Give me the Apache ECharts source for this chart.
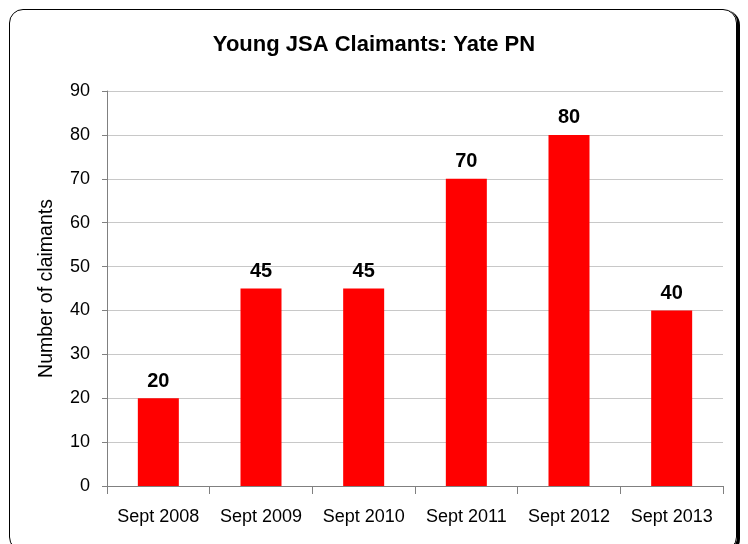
<!DOCTYPE html>
<html>
<head>
<meta charset="utf-8">
<script src="https://cdn.jsdelivr.net/npm/echarts@6/dist/echarts.min.js"></script>
<style>
  html, body { margin: 0; padding: 0; background: #fff; }
  #frame {
    position: absolute; left: 9px; top: 9px; width: 726px; height: 540px;
    border: 1px solid #000; border-radius: 14px;
    box-shadow: 2px 2px 0 1px #000;
  }
  #chart { position: absolute; left: 0; top: 0; width: 748px; height: 544px; }
</style>
</head>
<body>
<div id="frame"></div>
<div id="chart"></div>
<script>
const categories = ['Sept 2008', 'Sept 2009', 'Sept 2010', 'Sept 2011', 'Sept 2012', 'Sept 2013']
const claimants = [20, 45, 45, 70, 80, 40]

const chart = echarts.init(document.getElementById('chart'))

const option = {
  animation: false,
  textStyle: { fontFamily: 'Liberation Sans, Arial, sans-serif' },
  title: {
    text: 'Young JSA Claimants: Yate PN',
    left: 'center',
    top: 29,
    textStyle: { fontSize: 22, fontWeight: 'bold', color: '#000' }
  },
  grid: { left: 107, right: 25, top: 91, bottom: 58 },
  xAxis: {
    type: 'category',
    data: categories,
    axisLine: { lineStyle: { color: '#808080' } },
    axisTick: { show: true, alignWithLabel: false, length: 8, lineStyle: { color: '#808080' } },
    axisLabel: { color: '#000', fontSize: 18, margin: 22, interval: 0, hideOverlap: false }
  },
  yAxis: {
    type: 'value',
    min: 0,
    max: 90,
    interval: 10,
    name: 'Number of claimants',
    nameLocation: 'middle',
    nameGap: 50,
    nameTextStyle: { fontSize: 19.5, color: '#000' },
    axisLine: { show: true, lineStyle: { color: '#808080' } },
    axisTick: { show: true, length: 5, lineStyle: { color: '#808080' } },
    axisLabel: { color: '#000', fontSize: 18, margin: 17 },
    splitLine: { lineStyle: { color: '#c8c8c8' } }
  },
  series: [
    {
      type: 'bar',
      data: claimants,
      barWidth: 41,
      itemStyle: { color: '#ff0000' },
      label: {
        show: true,
        position: 'top',
        distance: 7,
        color: '#000',
        fontSize: 20,
        fontWeight: 'bold'
      }
    }
  ]
}

chart.setOption(option)
</script>
</body>
</html>
